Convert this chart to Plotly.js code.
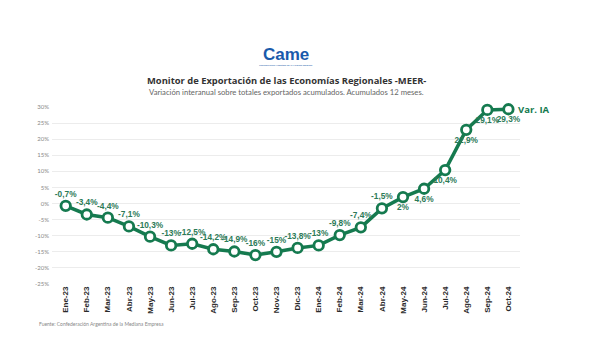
<!DOCTYPE html>
<html>
<head>
<meta charset="utf-8">
<script src="https://cdn.plot.ly/plotly-3.0.1.min.js"></script>
<style>html,body{margin:0;padding:0;background:#fff;}#chart{width:600px;height:360px;}</style>
</head>
<body>
<div id="chart"></div>
<script>
const months = ["Ene-23","Feb-23","Mar-23","Abr-23","May-23","Jun-23","Jul-23","Ago-23","Sep-23","Oct-23","Nov-23","Dic-23","Ene-24","Feb-24","Mar-24","Abr-24","May-24","Jun-24","Jul-24","Ago-24","Sep-24","Oct-24"];
const varIA = [-0.7,-3.4,-4.4,-7.1,-10.3,-13,-12.5,-14.2,-14.9,-16,-15,-13.8,-13,-9.8,-7.4,-1.5,2,4.6,10.4,22.9,29.1,29.3];
const pointLabels = ["-0,7%","-3,4%","-4,4%","-7,1%","-10,3%","-13%","-12,5%","-14,2%","-14,9%","-16%","-15%","-13,8%","-13%","-9,8%","-7,4%","-1,5%","2%","4,6%","10,4%","22,9%","29,1%","29,3%"];
const labelPos = ["top center","top center","top center","top center","top center","top center","top center","top center","top center","top center","top center","top center","top center","top center","top center","top center","bottom center","bottom center","bottom center","bottom center","bottom center","bottom center"];
const yTicks = [30,25,20,15,10,5,0,-5,-10,-15,-20,-25];
const yTickText = ["30%","25%","20%","15%","10%","5%","0%","-5%","-10%","-15%","-20%","-25%"];
const seriesName = "Var. IA";

const green = "#157a4f";
const narrow = "'Liberation Sans Narrow', 'Arial Narrow', sans-serif";
const trace = {
  x: months, y: varIA, type: "scatter", mode: "lines+markers+text",
  line: {color: green, width: 3.5},
  marker: {size: 9.5, color: "#ffffff", line: {color: green, width: 2.8}},
  text: pointLabels.map(t => "<b>" + t + "</b>"), textposition: labelPos,
  textfont: {family: narrow, size: 8.3, color: "#2c7a57"},
  cliponaxis: false, hoverinfo: "none", showlegend: false
};

const layout = {
  width: 600, height: 360,
  margin: {l: 52, r: 80, t: 106.7, b: 76.3},
  paper_bgcolor: "#ffffff", plot_bgcolor: "#ffffff",
  showlegend: false,
  xaxis: {
    type: "category", range: [-0.65, 21.55],
    tickangle: -90, showgrid: false, zeroline: false, showline: false,
    ticks: "", tickvals: months, ticktext: months.map(m => "<b>" + m + "</b>"),
    tickfont: {family: narrow, size: 8, color: "#2a2a2a"}
  },
  yaxis: {
    range: [-25, 30], tickvals: yTicks, ticktext: yTickText,
    showgrid: true, gridcolor: "#ececec", gridwidth: 1, zeroline: false, showline: false,
    ticks: "", ticklabelstandoff: 2,
    tickfont: {family: "Lato, sans-serif", size: 6, color: "#888888"}
  },
  annotations: [
    {text: "<b>Came</b>", xref: "paper", yref: "paper", x: 0.5, y: 1, yshift: 53, xanchor: "center", yanchor: "middle", showarrow: false,
     font: {family: "Liberation Sans, Arial, sans-serif", size: 17, color: "#1a5aab"}},
    {text: "Confederación Argentina de la Mediana Empresa", xref: "paper", yref: "paper", x: 0.5, y: 1, yshift: 42, xanchor: "center", yanchor: "middle", showarrow: false,
     font: {family: "Lato, sans-serif", size: 2.5, color: "#1a5aab"}},
    {text: "<b>Monitor de Exportación de las Economías Regionales -MEER-</b>", xref: "paper", yref: "paper", x: 0.5, y: 1, yshift: 27, xanchor: "center", yanchor: "middle", showarrow: false,
     font: {family: "'Open Sans', sans-serif", size: 9.4, color: "#333333"}},
    {text: "Variación interanual sobre totales exportados acumulados. Acumulados 12 meses.", xref: "paper", yref: "paper", x: 0.5, y: 1, yshift: 15.5, xanchor: "center", yanchor: "middle", showarrow: false,
     font: {family: "Lato, sans-serif", size: 7.7, color: "#666666"}},
    {text: "<b>" + seriesName + "</b>", x: months[months.length - 1], y: varIA[varIA.length - 1], xref: "x", yref: "y", xanchor: "left", yanchor: "middle", xshift: 8, showarrow: false,
     font: {family: "'Open Sans', sans-serif", size: 9.5, color: green}},
    {text: "Fuente: Confederación Argentina de la Mediana Empresa", xref: "paper", yref: "paper", x: 0, xshift: -15, y: 0, yshift: -40, xanchor: "left", yanchor: "middle", showarrow: false,
     font: {family: "Lato, sans-serif", size: 5, color: "#888888"}}
  ]
};

Plotly.newPlot("chart", [trace], layout, {displayModeBar: false, staticPlot: true});
</script>
</body>
</html>
